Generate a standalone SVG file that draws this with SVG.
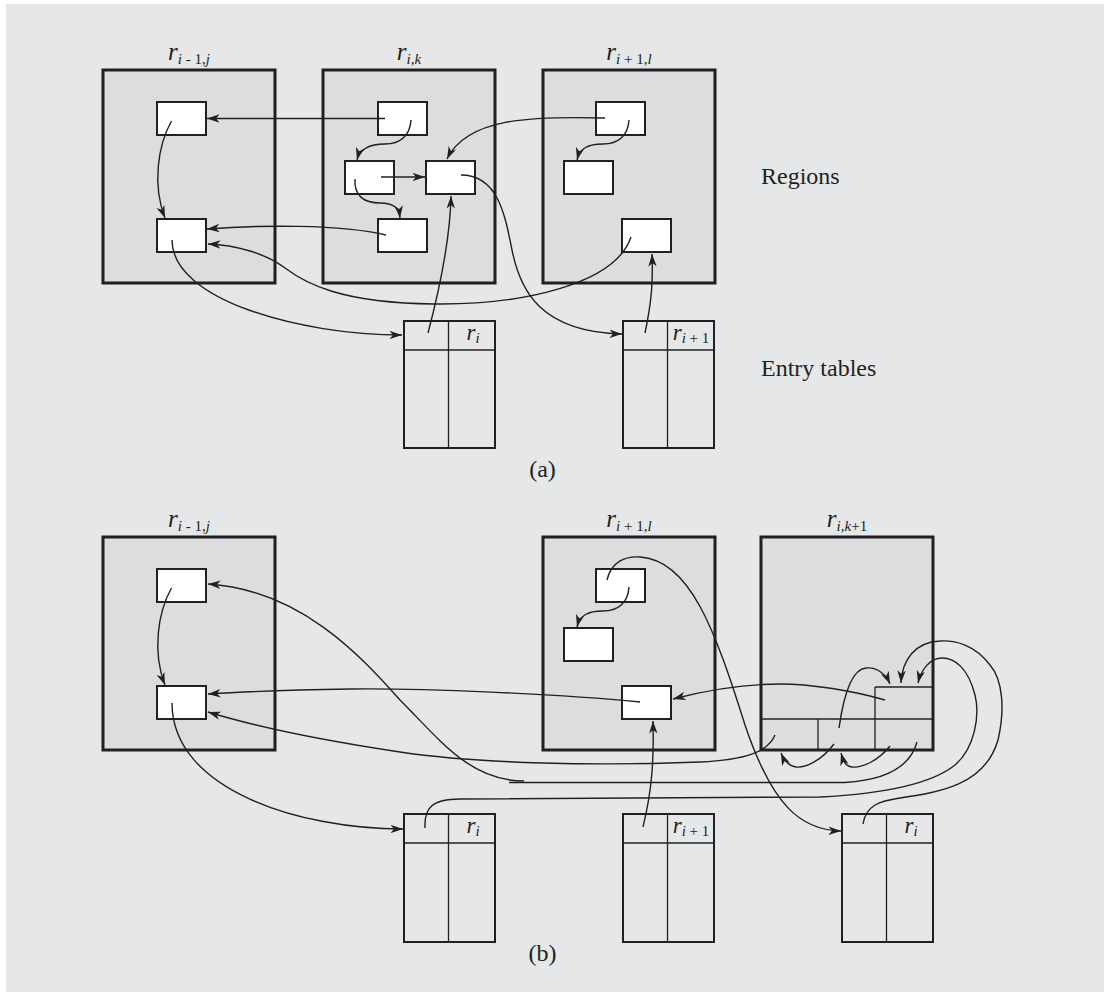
<svg xmlns="http://www.w3.org/2000/svg" width="1110" height="997" viewBox="0 0 1110 997">
<style>
.reg{fill:#dcdddf;stroke:#231f20;stroke-width:3}
.box{fill:#ffffff;stroke:#231f20;stroke-width:2}
.tbl{fill:none;stroke:#231f20;stroke-width:2}
.thin{fill:none;stroke:#231f20;stroke-width:1.3}
.c{fill:none;stroke:#231f20;stroke-width:1.4}
.a{marker-end:url(#ah)}
text{font-family:"Liberation Serif","Times New Roman",serif;fill:#231f20}
.lbl{font-size:24px}
.it{font-style:italic}
.sub{font-size:15px}
</style>
<defs>
<marker id="ah" markerWidth="14" markerHeight="10" refX="12.5" refY="4.5" orient="auto" markerUnits="userSpaceOnUse">
<path d="M0,0.3 L12.5,4.5 L0,8.7 L3.5,4.5 z" fill="#231f20"/>
</marker>
</defs>
<rect x="0" y="0" width="1110" height="997" fill="#ffffff"/>
<rect x="6" y="4" width="1098" height="988" fill="#e6e7e9"/>

<!-- (a) regions -->
<g id="a-r-im1j">
<rect class="reg" x="103" y="70" width="172" height="213"/>
<text x="189" y="60" text-anchor="middle"><tspan class="it" font-size="25">r</tspan><tspan class="sub it" dy="4">i</tspan><tspan class="sub"> - 1,</tspan><tspan class="sub it">j</tspan></text>
<rect class="box" x="157" y="102" width="49" height="33"/>
<rect class="box" x="157" y="219" width="49" height="33"/>
</g>
<g id="a-r-ik">
<rect class="reg" x="323" y="70" width="172" height="213"/>
<text x="409" y="60" text-anchor="middle"><tspan class="it" font-size="25">r</tspan><tspan class="sub it" dy="4">i,k</tspan></text>
<rect class="box" x="378" y="102" width="49" height="33"/>
<rect class="box" x="345" y="161" width="49" height="33"/>
<rect class="box" x="426" y="161" width="49" height="33"/>
<rect class="box" x="378" y="219" width="49" height="33"/>
</g>
<g id="a-r-ip1l">
<rect class="reg" x="543" y="70" width="172" height="213"/>
<text x="629" y="60" text-anchor="middle"><tspan class="it" font-size="25">r</tspan><tspan class="sub it" dy="4">i</tspan><tspan class="sub"> + 1,</tspan><tspan class="sub it">l</tspan></text>
<rect class="box" x="596" y="102" width="49" height="33"/>
<rect class="box" x="564" y="161" width="49" height="33"/>
<rect class="box" x="622" y="219" width="49" height="33"/>
</g>
<g id="a-t1">
<rect class="tbl" x="404" y="321" width="91" height="127"/>
<line class="thin" x1="404" y1="350" x2="495" y2="350"/>
<line class="thin" x1="448.5" y1="321" x2="448.5" y2="448"/>
<text x="473" y="340" text-anchor="middle"><tspan class="it" font-size="23">r</tspan><tspan class="it" font-size="15" dy="3">i</tspan></text>
</g>
<g id="a-t2">
<rect class="tbl" x="623" y="321" width="91" height="127"/>
<line class="thin" x1="623" y1="350" x2="714" y2="350"/>
<line class="thin" x1="667.5" y1="321" x2="667.5" y2="448"/>
<text x="691" y="340" text-anchor="middle"><tspan class="it" font-size="23">r</tspan><tspan class="it" font-size="15" dy="3">i</tspan><tspan font-size="15"> + 1</tspan></text>
</g>
<text class="lbl" x="761" y="184">Regions</text>
<text class="lbl" x="761" y="376">Entry tables</text>
<text class="lbl" x="542.5" y="477" text-anchor="middle">(a)</text>

<!-- (b) regions -->
<g id="b-r-im1j">
<rect class="reg" x="103" y="537" width="172" height="213"/>
<text x="189" y="527" text-anchor="middle"><tspan class="it" font-size="25">r</tspan><tspan class="sub it" dy="4">i</tspan><tspan class="sub"> - 1,</tspan><tspan class="sub it">j</tspan></text>
<rect class="box" x="157" y="569" width="49" height="33"/>
<rect class="box" x="157" y="686" width="49" height="33"/>
</g>
<g id="b-r-ip1l">
<rect class="reg" x="543" y="537" width="172" height="213"/>
<text x="629" y="527" text-anchor="middle"><tspan class="it" font-size="25">r</tspan><tspan class="sub it" dy="4">i</tspan><tspan class="sub"> + 1,</tspan><tspan class="sub it">l</tspan></text>
<rect class="box" x="596" y="569" width="49" height="33"/>
<rect class="box" x="564" y="628" width="49" height="33"/>
<rect class="box" x="622" y="686" width="49" height="33"/>
</g>
<g id="b-r-ikp1">
<rect class="reg" x="761" y="537" width="172" height="213"/>
<text x="847" y="527" text-anchor="middle"><tspan class="it" font-size="25">r</tspan><tspan class="sub it" dy="4">i,k</tspan><tspan class="sub">+1</tspan></text>
<line class="thin" x1="761" y1="719" x2="933" y2="719"/>
<line class="thin" x1="818" y1="719" x2="818" y2="750"/>
<line class="thin" x1="875" y1="687" x2="875" y2="750"/>
<line class="thin" x1="875" y1="687" x2="933" y2="687"/>
</g>
<g id="b-t1">
<rect class="tbl" x="404" y="814" width="91" height="128"/>
<line class="thin" x1="404" y1="843" x2="495" y2="843"/>
<line class="thin" x1="448.5" y1="814" x2="448.5" y2="942"/>
<text x="473" y="833" text-anchor="middle"><tspan class="it" font-size="23">r</tspan><tspan class="it" font-size="15" dy="3">i</tspan></text>
</g>
<g id="b-t2">
<rect class="tbl" x="623" y="814" width="91" height="128"/>
<line class="thin" x1="623" y1="843" x2="714" y2="843"/>
<line class="thin" x1="667.5" y1="814" x2="667.5" y2="942"/>
<text x="691" y="833" text-anchor="middle"><tspan class="it" font-size="23">r</tspan><tspan class="it" font-size="15" dy="3">i</tspan><tspan font-size="15"> + 1</tspan></text>
</g>
<g id="b-t3">
<rect class="tbl" x="842" y="814" width="91" height="128"/>
<line class="thin" x1="842" y1="843" x2="933" y2="843"/>
<line class="thin" x1="886.5" y1="814" x2="886.5" y2="942"/>
<text x="911" y="833" text-anchor="middle"><tspan class="it" font-size="23">r</tspan><tspan class="it" font-size="15" dy="3">i</tspan></text>
</g>
<text class="lbl" x="542.5" y="961" text-anchor="middle">(b)</text>

<g id="connectors">
<!-- (a) -->
<path class="c a" d="M385,118.5 L207,118.5"/>
<path class="c a" d="M171.5,121 C158,145 152,185 165,218"/>
<path class="c a" d="M411,120 C410,136 400,144 385,144 C370,144 360,148 357,160"/>
<path class="c a" d="M381,177 L425,177"/>
<path class="c a" d="M355,179 C354,196 364,203 380,203 C394,203 399,208 400,218"/>
<path class="c a" d="M386,235 C340,224 260,225 207,229"/>
<path class="c a" d="M605,118 C530,116 467,118 447,159"/>
<path class="c a" d="M629,120 C628,136 618,144 603,144 C588,144 580,148 577,160"/>
<path class="c a" d="M631,237 C615,285 520,305 434,304 C340,303 305,283 285,268 C265,253 235,245 208,244"/>
<path class="c a" d="M172,240 C172,300 300,335 402,335"/>
<path class="c a" d="M428,333 C438,295 450,245 451,196"/>
<path class="c a" d="M461,175 C498,175 505,215 512,250 C520,290 540,332 622,334"/>
<path class="c a" d="M645,333 C652,300 653,280 652,254"/>
<!-- (b) -->
<path class="c a" d="M171.5,588 C158,612 152,652 165,685"/>
<path class="c a" d="M172,703 C172,790 300,829 403,829"/>
<path class="c a" d="M629,587 C628,603 618,611 603,611 C588,611 580,615 577,627"/>
<path class="c a" d="M607,580 C611,562 625,556 640,557 C690,560 715,630 745,725 C772,805 800,830 841,831"/>
<path class="c" d="M917,742 C910,768 885,780 845,782.5 L509,782.5"/>
<path class="c a" d="M524,781 C470,781 440,740 400,700 C360,655 300,590 208,584"/>
<path class="c a" d="M775,735 C768,752 745,760 700,762 C600,766 480,764 400,752 C320,740 260,728 208,712"/>
<path class="c a" d="M425,828 C424,808 432,799 460,799 L820,797 C880,794 930,785 955,765 C975,748 980,715 975,695 C968,668 955,658 942,658 C930,658 921,670 918,683"/>
<path class="c a" d="M863,824 C866,805 880,801 900,798 C940,792 985,785 998,740 C1005,710 1003,680 990,665 C975,645 955,640 940,641 C915,642 902,660 901,683"/>
<path class="c a" d="M885,700 C850,690 810,684 780,684 C740,684 700,692 673,699"/>
<path class="c a" d="M640,702 C560,694 420,688 350,689 C290,690 240,692 208,694"/>
<path class="c a" d="M643,827 C652,790 654,760 653,721"/>
<path class="c a" d="M834,744 C822,760 806,768 796,767 C788,766 784,760 781,753"/>
<path class="c a" d="M890,746 C878,761 862,768 852,767 C845,766 843,760 841,753"/>
<path class="c a" d="M839,728 C843,700 850,669 866,668 C878,667 886,675 890,684"/>
</g>
</svg>
